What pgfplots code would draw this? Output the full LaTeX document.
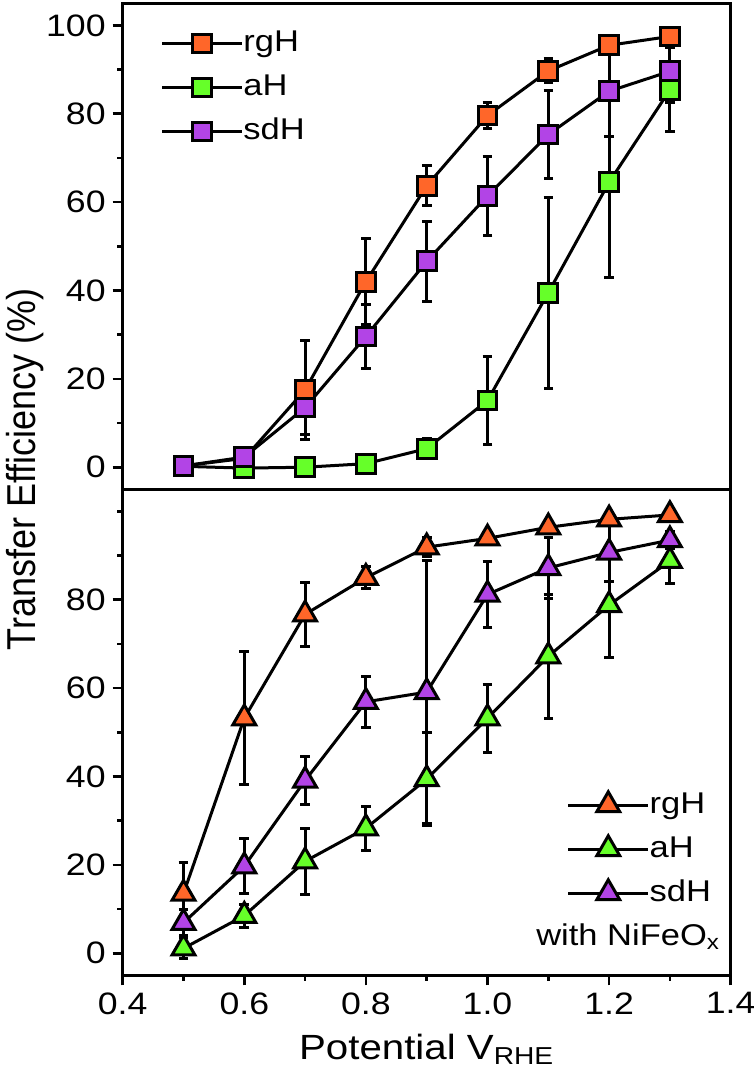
\documentclass[border=0pt]{standalone}
\usepackage{fontspec}
\setmainfont[FakeStretch=1.15]{Liberation Sans}
\newfontfamily\plainsans{Liberation Sans}
\usepackage{graphicx}
\usepackage{pgfplots}
\pgfplotsset{compat=1.18}
\usepackage{pgfplotstable}

\definecolor{orgc}{RGB}{255,102,41}
\definecolor{grnc}{RGB}{102,255,41}
\definecolor{purc}{RGB}{178,68,230}

\pgfplotstableread{
x    rg    rgE   a     aE    sd    sdE
0.5  0.3   0.5   0.2   0.3   0.3   1.2
0.6  2.0   1.5   -0.2  0.5   2.3   1.5
0.7  17.5  11.2  0.0   0.5   13.5  6.2
0.8  42.0  9.7   0.8   1.0   29.6  7.3
0.9  63.7  4.5   4.2   2.2   46.6  9.0
1.0  79.6  2.9   15.1  10.0  61.4  9.0
1.1  89.7  2.7   39.5  21.6  75.3  10.0
1.2  95.5  1.8   64.5  21.5  85.1  10.2
1.3  97.5  1.2   85.4  9.5   89.6  7.0
}\toptab

\pgfplotstableread{
x    rg    rgE   a     aE    sd    sdE
0.5  13.5  7.0   1.1   2.4   6.9   3.0
0.6  53.2  15.0  8.5   2.6   19.7  6.2
0.7  76.7  7.2   20.8  7.5   39.1  5.5
0.8  85.0  2.5   28.3  5.0   56.9  5.7
0.9  91.9  2.2   39.4  10.5  59.1  29.7
1.0  93.9  1.5   53.2  7.7   81.2  7.5
1.1  96.4  1.2   67.2  14.0  87.2  7.0
1.2  98.2  1.0   78.8  11.8  90.7  6.5
1.3  99.2  0.8   88.8  5.2   93.5  2.0
}\bottab

\pgfplotsset{
  panel/.style={
    width=304pt, height=243pt, scale only axis,
    xmin=0.4, xmax=1.4, ymin=-5, ymax=105,
    axis line style={line width=1.3pt},
    every tick/.style={line width=1.3pt, black},
    major tick length=5pt, minor tick length=2.8pt,
    tick align=outside,
    ytick pos=left, xtick pos=bottom,
    /pgf/number format/assume math mode=true,
    tick label style={font=\fontsize{15.5}{18}\selectfont},
    legend style={draw=none, fill=none, inner sep=0pt, row sep=8pt,
      font=\fontsize{15}{18}\selectfont, cells={anchor=west},
      nodes={inner sep=0pt, text height=11pt, text depth=3pt}},
    legend cell align=left,
    legend image code/.code={\draw[mark repeat=2, mark phase=2, ##1]
      plot coordinates {(0cm,0cm) (0.7cm,0cm) (1.4cm,0cm)};},
  },
  ser/.style 2 args={black, line width=1.5pt, mark=#2, mark size=#1,
    mark options={draw=black, line width=1.3pt, solid}},
  eb/.style={error bars/.cd, y dir=both, y explicit,
    error bar style={line width=1.5pt, black},
    error mark options={rotate=90, line width=1.5pt, mark size=2.4pt, black}},
}

\begin{document}
\begin{tikzpicture}
\path[use as bounding box] (-61.35pt,1.65pt) rectangle (315.65pt,-542.35pt);

\begin{axis}[panel, name=top, at={(0,0)}, anchor=north west,
  xtick=\empty,
  ytick={0,20,40,60,80,100}, minor ytick={10,30,50,70,90},
  legend style={at={(0.062,0.947)}, anchor=north west}]
\addplot[ser={4.7pt}{square*}, mark options={fill=orgc}, eb] table[x=x, y=rg, y error=rgE] {\toptab};
\addlegendentry{rgH}
\addplot[ser={4.7pt}{square*}, mark options={fill=grnc}, eb] table[x=x, y=a, y error=aE] {\toptab};
\addlegendentry{aH}
\addplot[ser={4.7pt}{square*}, mark options={fill=purc}, eb] table[x=x, y=sd, y error=sdE] {\toptab};
\addlegendentry{sdH}
\end{axis}

\begin{axis}[panel, name=bot, at={(top.south west)}, anchor=north west,
  xtick={0.4,0.6,0.8,1.0,1.2,1.4}, minor xtick={0.5,0.7,0.9,1.1,1.3},
  xticklabel style={/pgf/number format/.cd, fixed, fixed zerofill, precision=1},
  ytick={0,20,40,60,80}, minor ytick={10,30,50,70,90,100},
  xlabel={Potential V\textsubscript{RHE}},
  xlabel style={font=\fontsize{17.5}{20}\selectfont, yshift=-3pt},
  legend style={at={(0.73,0.38)}, anchor=north west}]
\addplot[ser={6.6pt}{triangle*}, mark options={fill=orgc}, eb] table[x=x, y=rg, y error=rgE] {\bottab};
\addlegendentry{rgH}
\addplot[ser={6.6pt}{triangle*}, mark options={fill=grnc}, eb] table[x=x, y=a, y error=aE] {\bottab};
\addlegendentry{aH}
\addplot[ser={6.6pt}{triangle*}, mark options={fill=purc}, eb] table[x=x, y=sd, y error=sdE] {\bottab};
\addlegendentry{sdH}
\node[anchor=east, font=\fontsize{15}{18}\selectfont] at (rel axis cs:0.994,0.079) {with NiFeO\textsubscript{x}};
\end{axis}

\node[rotate=90, font=\plainsans\fontsize{18}{20}\selectfont] at ([xshift=-48.85pt, yshift=10pt]top.south west) {\scalebox{1}[1.12]{Transfer Efficiency (\%)}};
\end{tikzpicture}
\end{document}
